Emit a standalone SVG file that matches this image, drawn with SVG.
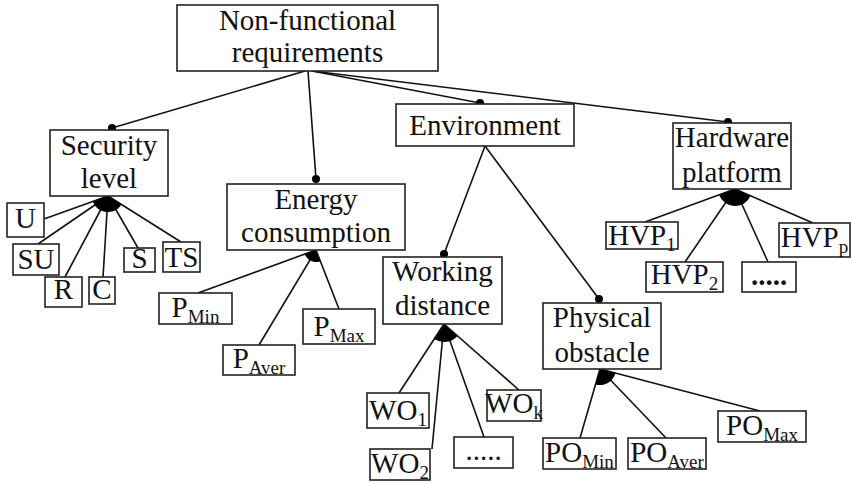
<svg xmlns="http://www.w3.org/2000/svg" width="851" height="483" viewBox="0 0 851 483">
<style>
.box{fill:#fff;stroke:#222;stroke-width:1.6}
.t{font-size:29px;fill:#111;text-anchor:middle}
.s{font-size:19px}
.ln{stroke:#111;stroke-width:1.6;fill:none}
.dot{fill:#000}
.fan{fill:#000}
</style>
<rect width="851" height="483" fill="#fff"/>
<g id="connectors">
<line class="ln" x1="305" y1="71" x2="112" y2="128"/>
<line class="ln" x1="308" y1="71" x2="316" y2="179"/>
<line class="ln" x1="312" y1="71" x2="480" y2="103"/>
<line class="ln" x1="312" y1="71" x2="728" y2="122"/>
<line class="ln" x1="485" y1="146" x2="444" y2="254"/>
<line class="ln" x1="485" y1="146" x2="599" y2="299"/>
<circle class="dot" cx="112" cy="128" r="4"/>
<circle class="dot" cx="316" cy="179" r="4"/>
<circle class="dot" cx="480" cy="103" r="4"/>
<circle class="dot" cx="728" cy="122" r="4"/>
<circle class="dot" cx="444" cy="254" r="4"/>
<circle class="dot" cx="599" cy="299" r="4"/>
<line class="ln" x1="108" y1="196" x2="44" y2="219"/>
<line class="ln" x1="108" y1="196" x2="38" y2="244"/>
<line class="ln" x1="108" y1="196" x2="65" y2="277"/>
<line class="ln" x1="108" y1="196" x2="103" y2="277"/>
<line class="ln" x1="108" y1="196" x2="138" y2="248"/>
<line class="ln" x1="108" y1="196" x2="181" y2="242"/>
<path class="fan" d="M108,196 L92.9,201.4 A16,16 0 0 0 121.5,204.5 Z"/>
<line class="ln" x1="316" y1="250" x2="198" y2="293"/>
<line class="ln" x1="316" y1="250" x2="259" y2="345"/>
<line class="ln" x1="316" y1="250" x2="339" y2="309"/>
<path class="fan" d="M316,250 L304.7,254.1 A12,12 0 0 0 320.4,261.2 Z"/>
<line class="ln" x1="444" y1="324" x2="399" y2="393"/>
<line class="ln" x1="444" y1="324" x2="432" y2="449"/>
<line class="ln" x1="444" y1="324" x2="484" y2="437"/>
<line class="ln" x1="444" y1="324" x2="519" y2="390"/>
<path class="fan" d="M444,324 L434.2,339.1 A18,18 0 0 0 457.5,335.9 Z"/>
<line class="ln" x1="600" y1="369" x2="580" y2="438"/>
<line class="ln" x1="600" y1="369" x2="666" y2="438"/>
<line class="ln" x1="600" y1="369" x2="760" y2="411"/>
<path class="fan" d="M600,369 L595.5,384.4 A16,16 0 0 0 615.5,373.1 Z"/>
<line class="ln" x1="735" y1="189" x2="645" y2="222"/>
<line class="ln" x1="735" y1="189" x2="685" y2="262"/>
<line class="ln" x1="735" y1="189" x2="768" y2="262"/>
<line class="ln" x1="735" y1="189" x2="813" y2="223"/>
<path class="fan" d="M735,189 L719,194.8 A17,17 0 0 0 750.6,195.8 Z"/>
</g>
<g font-family="Liberation Serif, DejaVu Serif, serif">
<g id="root"><rect class="box" x="177" y="5" width="261" height="66"/><text class="t" x="307.5" y="30">Non-functional</text><text class="t" x="307.5" y="62">requirements</text></g>
<g id="security"><rect class="box" x="50" y="130" width="118" height="66"/><text class="t" x="109" y="155">Security</text><text class="t" x="109" y="188">level</text></g>
<g id="energy"><rect class="box" x="227" y="184" width="178" height="66"/><text class="t" x="316" y="209">Energy</text><text class="t" x="316" y="242">consumption</text></g>
<g id="environment"><rect class="box" x="396" y="104" width="178" height="42"/><text class="t" x="485" y="135">Environment</text></g>
<g id="hardware"><rect class="box" x="673" y="123" width="118" height="66"/><text class="t" x="732" y="147">Hardware</text><text class="t" x="732" y="182">platform</text></g>
<g id="working"><rect class="box" x="383" y="257" width="119" height="67"/><text class="t" x="442.5" y="281">Working</text><text class="t" x="442.5" y="315">distance</text></g>
<g id="physical"><rect class="box" x="543" y="303" width="118" height="66"/><text class="t" x="602" y="327">Physical</text><text class="t" x="602" y="362">obstacle</text></g>
<g id="u"><rect class="box" x="7" y="203" width="37" height="34"/><text class="t" x="25.5" y="228">U</text></g>
<g id="su"><rect class="box" x="13" y="244" width="46" height="31"/><text class="t" x="36" y="269">SU</text></g>
<g id="r"><rect class="box" x="45" y="277" width="37" height="30"/><text class="t" x="63.5" y="299">R</text></g>
<g id="c"><rect class="box" x="89" y="277" width="26" height="27"/><text class="t" x="102" y="299">C</text></g>
<g id="s"><rect class="box" x="124" y="248" width="31" height="24"/><text class="t" x="139.5" y="268">S</text></g>
<g id="ts"><rect class="box" x="163" y="242" width="37" height="30"/><text class="t" x="181.5" y="267">TS</text></g>
<g id="pmin"><rect class="box" x="159" y="293" width="73" height="31"/><text class="t" x="195.5" y="317">P<tspan class="s" dy="6">Min</tspan></text></g>
<g id="paver"><rect class="box" x="223" y="345" width="72" height="30"/><text class="t" x="259" y="368">P<tspan class="s" dy="6">Aver</tspan></text></g>
<g id="pmax"><rect class="box" x="303" y="309" width="72" height="35"/><text class="t" x="339" y="336">P<tspan class="s" dy="6">Max</tspan></text></g>
<g id="wo1"><rect class="box" x="367" y="393" width="62" height="35"/><text class="t" x="398" y="420">WO<tspan class="s" dy="6">1</tspan></text></g>
<g id="wo2"><rect class="box" x="370" y="449" width="60" height="31"/><text class="t" x="400" y="473">WO<tspan class="s" dy="6">2</tspan></text></g>
<g id="wodots"><rect class="box" x="454" y="437" width="59" height="31"/><text class="t" x="483.5" y="460">.....</text></g>
<g id="wok"><rect class="box" x="487" y="390" width="54" height="31"/><text class="t" x="514" y="413">WO<tspan class="s" dy="6">k</tspan></text></g>
<g id="pomin"><rect class="box" x="543" y="438" width="73" height="31"/><text class="t" x="579.5" y="462">PO<tspan class="s" dy="6">Min</tspan></text></g>
<g id="poaver"><rect class="box" x="628" y="438" width="78" height="31"/><text class="t" x="667" y="462">PO<tspan class="s" dy="6">Aver</tspan></text></g>
<g id="pomax"><rect class="box" x="718" y="411" width="88" height="31"/><text class="t" x="762" y="435">PO<tspan class="s" dy="6">Max</tspan></text></g>
<g id="hvp1"><rect class="box" x="606" y="222" width="72" height="27"/><text class="t" x="642" y="245">HVP<tspan class="s" dy="6">1</tspan></text></g>
<g id="hvp2"><rect class="box" x="646" y="262" width="77" height="30"/><text class="t" x="684.5" y="284">HVP<tspan class="s" dy="6">2</tspan></text></g>
<g id="hvpdots"><rect class="box" x="742" y="262" width="54" height="30"/><text class="t" x="769" y="285" font-weight="bold">.....</text></g>
<g id="hvpp"><rect class="box" x="779" y="223" width="71" height="34"/><text class="t" x="814.5" y="247">HVP<tspan class="s" dy="6">p</tspan></text></g>
</g>
</svg>
